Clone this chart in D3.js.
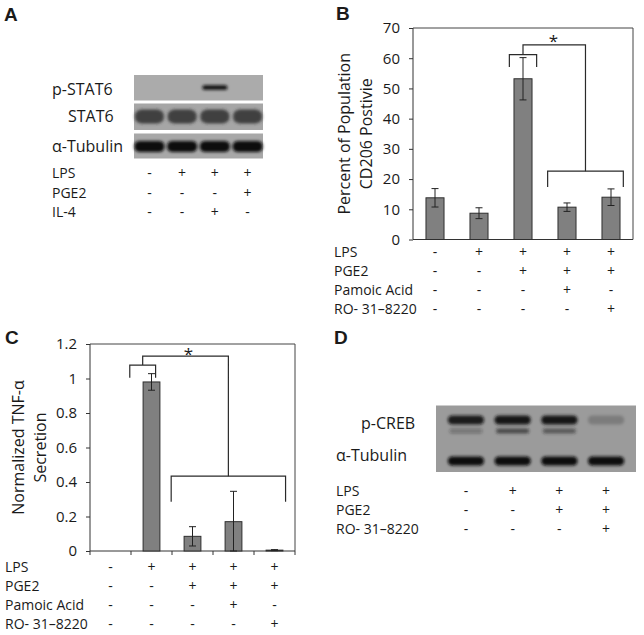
<!DOCTYPE html>
<html>
<head>
<meta charset="utf-8">
<script src="https://cdn.jsdelivr.net/npm/d3@7"></script>
<style>
  body { margin: 0; background: #fff; }
  svg text { font-family: "Open Sans", sans-serif; fill: #1a1a1a; }
  .domain, .tick line { stroke: #333; }
</style>
</head>
<body>
<svg width="644" height="635"></svg>
<script>
// ---- data ----
var lanesA = ["LPS", "PGE2", "IL-4"];
var condA = [["-", "+", "+", "+"], ["-", "-", "-", "+"], ["-", "-", "+", "-"]];
var pStat6 = [0, 0, 1, 0];
var stat6 = [0.85, 0.85, 0.85, 0.85];
var tubulinA = [1, 1, 1, 1];

var rowsB = ["LPS", "PGE2", "Pamoic Acid", "RO- 31\u20138220"];
var condB = [["-", "+", "+", "+", "+"], ["-", "-", "+", "+", "+"], ["-", "-", "-", "+", "-"], ["-", "-", "-", "-", "+"]];
var cd206 = [13.8, 8.7, 53.2, 10.7, 14.0];
var cd206Err = [3.05, 1.8, 7.0, 1.4, 2.75];
var ticksB = [0, 10, 20, 30, 40, 50, 60, 70];

var rowsC = ["LPS", "PGE2", "Pamoic Acid", "RO- 31\u20138220"];
var condC = [["-", "+", "+", "+", "+"], ["-", "-", "+", "+", "+"], ["-", "-", "-", "+", "-"], ["-", "-", "-", "-", "+"]];
var tnf = [0, 0.98, 0.085, 0.17, 0.005];
var tnfErr = [0, 0.048, 0.056, 0.176, 0.003];
var ticksC = [0, 0.2, 0.4, 0.6, 0.8, 1, 1.2];
var tickLabelsC = ["0", "0.2", "0.4", "0.6", "0.8", "1", "1.2"];

var rowsD = ["LPS", "PGE2", "RO- 31\u20138220"];
var condD = [["-", "+", "+", "+"], ["-", "-", "+", "+"], ["-", "-", "-", "+"]];
var pCreb = [0.9, 1, 1, 0.2];
var pCrebLow = [0.3, 0.65, 0.55, 0];
var tubulinD = [1, 1, 1, 1];

var svg = d3.select("svg");

svg.append("defs").append("filter").attr("id", "blur")
  .attr("x", "-20%").attr("y", "-60%").attr("width", "140%").attr("height", "220%")
  .append("feGaussianBlur").attr("stdDeviation", 1.6);

function letter(t, x, y) {
  svg.append("text").attr("x", x).attr("y", y).text(t)
    .style("font-family", "Liberation Sans, Arial, sans-serif")
    .style("font-weight", "bold").style("font-size", "19px");
}
letter("A", 4, 21);
letter("B", 336, 20);
letter("C", 5, 344);
letter("D", 334, 344);

function condTable(rows, cond, xPos, labelX, y0, step) {
  rows.forEach(function(r, j) {
    var y = y0 + j * step;
    svg.append("text").attr("x", labelX).attr("y", y).attr("dy", "0.35em")
      .style("font-size", "14px").text(r);
    cond[j].forEach(function(s, i) {
      svg.append("text").attr("x", xPos(i)).attr("y", y).attr("dy", "0.35em")
        .attr("text-anchor", "middle").style("font-size", "14px").text(s);
    });
  });
}

// ---- blots ----
function strip(x0, x1, y0, y1, bg) {
  svg.append("rect").attr("x", x0).attr("y", y0).attr("width", x1 - x0).attr("height", y1 - y0).attr("fill", bg);
}
function bands(lane, vals, cy, h, w, color) {
  svg.append("g").attr("filter", "url(#blur)").selectAll("rect").data(vals).enter()
    .append("rect")
    .attr("x", function(d, i) { return lane(i) - w / 2; })
    .attr("y", cy - h / 2)
    .attr("width", w).attr("height", h)
    .attr("rx", h / 2).attr("ry", h / 2.4)
    .attr("fill", color)
    .attr("opacity", function(d) { return d; });
}
function blotLabel(t, x, y) {
  svg.append("text").attr("x", x).attr("y", y).attr("dy", "0.35em").style("font-size", "16px").text(t);
}

// panel A
var laneA = d3.scalePoint().domain(d3.range(4)).range([134, 263]).padding(0.47);
strip(134, 263, 75, 100.5, "#ababab");
strip(134, 263, 103.5, 130, "#a6a6a6");
strip(134, 263, 133.5, 158.5, "#a8a8a8");
bands(laneA, pStat6, 87.5, 4.5, 25, "#111");
bands(laneA, stat6, 116.5, 14, 29, "#2e2e2e");
bands(laneA, tubulinA, 146.5, 11, 30, "#0e0e0e");
blotLabel("p-STAT6", 52, 89);
blotLabel("STAT6", 68, 116.5);
blotLabel("\u03b1-Tubulin", 52, 146.5);
condTable(lanesA, condA, laneA, 52, 173.5, 19.5);

// panel D
var laneD = d3.scalePoint().domain(d3.range(4)).range([436, 636]).padding(0.64);
strip(436, 636, 405.5, 472, "#9b9b9b");
bands(laneD, pCreb, 420, 9, 36, "#121212");
bands(laneD, pCrebLow, 431, 5, 33, "#1e1e1e");
bands(laneD, tubulinD, 461, 9, 36, "#0e0e0e");
blotLabel("p-CREB", 361, 423);
blotLabel("\u03b1-Tubulin", 336, 455.5);
condTable(rowsD, condD, laneD, 336, 491, 19);

// ---- bar charts ----
function barChart(o) {
  var x = d3.scaleBand().domain(d3.range(o.vals.length)).range([o.x0, o.x1])
    .paddingInner(0.59).paddingOuter(0.295);
  var y = d3.scaleLinear().domain([0, o.max]).range([o.y1, o.y0]);
  var xc = function(i) { return x(0) + x.bandwidth() / 2 + i * x.step(); };
  var g = svg.append("g");

  // frame
  g.append("path").attr("d", "M" + o.x0 + "," + o.y0 + "H" + o.x1 + "V" + o.y1)
    .attr("fill", "none").attr("stroke", "#444").attr("stroke-width", 1);

  g.append("g").attr("transform", "translate(" + o.x0 + ",0)")
    .call(d3.axisLeft(y).tickValues(o.ticks).tickSize(4).tickPadding(9).tickFormat(o.fmt))
    .call(function(a) { a.selectAll("text").style("font-size", "15px").style("fill", "#1a1a1a"); })
    .call(function(a) { a.select(".domain").attr("d", "M0," + o.y0 + "V" + o.y1); });

  var xa = g.append("g").attr("transform", "translate(0," + o.y1 + ")");
  xa.append("line").attr("x1", o.x0).attr("x2", o.x1).attr("stroke", "#333");
  if (o.xTicks) {
    xa.selectAll("line.t").data(d3.range(o.vals.length + 1)).enter().append("line")
      .attr("class", "t")
      .attr("x1", function(k) { return o.x0 + k * x.step(); })
      .attr("x2", function(k) { return o.x0 + k * x.step(); })
      .attr("y1", 0).attr("y2", 4).attr("stroke", "#333");
  }

  g.selectAll("rect.bar").data(o.vals).enter().append("rect").attr("class", "bar")
    .attr("x", function(d, i) { return x(i); })
    .attr("width", x.bandwidth())
    .attr("y", function(d) { return y(d); })
    .attr("height", function(d) { return o.y1 - y(d); })
    .attr("fill", "#808080").attr("stroke", "#2e2e2e").attr("stroke-width", 1);

  g.selectAll("path.err").data(o.vals).enter().append("path").attr("class", "err")
    .attr("fill", "none").attr("stroke", "#222").attr("stroke-width", 1)
    .attr("d", function(d, i) {
      var e = o.errs[i];
      if (!e) return null;
      var cx = xc(i), hi = y(d + e), lo = y(Math.max(0, d - e));
      return "M" + (cx - 3.5) + "," + hi + "H" + (cx + 3.5) + "M" + cx + "," + hi + "V" + lo +
        "M" + (cx - 3.5) + "," + lo + "H" + (cx + 3.5);
    });

  // significance brackets
  var b = o.br, line = function(d) {
    g.append("path").attr("d", d).attr("fill", "none").attr("stroke", "#2a2a2a").attr("stroke-width", 1.2);
  };
  var sm = (b.small[0] + b.small[1]) / 2, bm = (b.big[0] + b.big[1]) / 2;
  line("M" + xc(b.small[0]) + "," + y(b.small[3]) + "V" + y(b.small[2]) + "H" + xc(b.small[1]) + "V" + y(b.small[3]) +
       "M" + xc(sm) + "," + y(b.small[2]) + "V" + y(b.link) + "H" + xc(bm) + "V" + y(b.big[2]));
  line("M" + xc(b.big[0]) + "," + y(b.big[3]) + "V" + y(b.big[2]) + "H" + xc(b.big[1]) + "V" + y(b.big[3]));
  g.append("text").attr("x", xc(b.star[0])).attr("y", y(b.star[1])).attr("text-anchor", "middle")
    .attr("dy", "0.7em").style("font-size", "17px").text("*");

  // y label
  var yl = g.append("text").attr("text-anchor", "middle").style("font-size", "16px")
    .attr("transform", "translate(" + o.labelX + "," + ((o.y0 + o.y1) / 2) + ") rotate(-90)");
  o.label.forEach(function(t, i) {
    yl.append("tspan").attr("x", 0).attr("dy", i ? "1.35em" : 0).text(t);
  });

  condTable(o.rows, o.cond, xc, o.rowX, o.rowY, o.rowStep);
}

barChart({
  vals: cd206, errs: cd206Err, max: 70, ticks: ticksB, fmt: d3.format("d"),
  x0: 413, x1: 633, y0: 28, y1: 239.5, xTicks: false,
  br: { small: [1.69, 2.31, 61.2, 57.1], link: 64.4, big: [2.56, 4.28, 22.6, 17.4], star: [2.69, 67.5] },
  label: ["Percent of Population", "CD206 Postivie"], labelX: 350,
  rows: rowsB, cond: condB, rowX: 334, rowY: 251.7, rowStep: 19.2
});

barChart({
  vals: tnf, errs: tnfErr, max: 1.2, ticks: ticksC, fmt: function(d, i) { return tickLabelsC[i]; },
  x0: 90, x1: 295, y0: 344, y1: 551, xTicks: true,
  br: { small: [0.47, 1.1, 1.077, 1.005], link: 1.13, big: [1.48, 4.27, 0.434, 0.285], star: [1.9, 1.175] },
  label: ["Normalized TNF-\u03b1", "Secretion"], labelX: 24,
  rows: rowsC, cond: condC, rowX: 5, rowY: 567, rowStep: 18.9
});
</script>
</body>
</html>
